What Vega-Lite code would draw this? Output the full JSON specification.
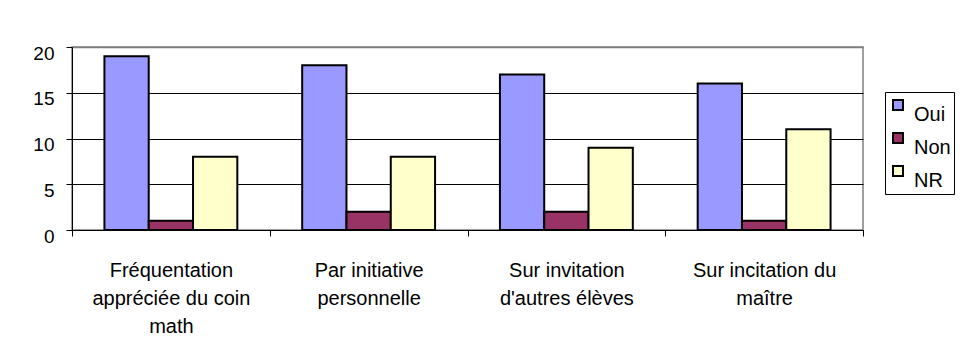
{
  "$schema": "https://vega.github.io/schema/vega-lite/v6.json",
  "autosize": {"type": "none"},
  "padding": {"left": 72, "top": 47, "right": 97, "bottom": 131},
  "width": 791,
  "height": 183,
  "background": "white",
  "config": {
    "font": "Liberation Sans, Arial, sans-serif",
    "view": {"stroke": "#808080", "strokeWidth": 1.5}
  },
  "data": {
    "values": [
      {"situation": "Fréquentation appréciée du coin math", "reponse": "Oui", "effectif": 19},
      {"situation": "Fréquentation appréciée du coin math", "reponse": "Non", "effectif": 1},
      {"situation": "Fréquentation appréciée du coin math", "reponse": "NR", "effectif": 8},
      {"situation": "Par initiative personnelle", "reponse": "Oui", "effectif": 18},
      {"situation": "Par initiative personnelle", "reponse": "Non", "effectif": 2},
      {"situation": "Par initiative personnelle", "reponse": "NR", "effectif": 8},
      {"situation": "Sur invitation d'autres élèves", "reponse": "Oui", "effectif": 17},
      {"situation": "Sur invitation d'autres élèves", "reponse": "Non", "effectif": 2},
      {"situation": "Sur invitation d'autres élèves", "reponse": "NR", "effectif": 9},
      {"situation": "Sur incitation du maître", "reponse": "Oui", "effectif": 16},
      {"situation": "Sur incitation du maître", "reponse": "Non", "effectif": 1},
      {"situation": "Sur incitation du maître", "reponse": "NR", "effectif": 11}
    ]
  },
  "mark": {"type": "bar", "stroke": "black", "strokeWidth": 2},
  "encoding": {
    "x": {
      "field": "situation",
      "type": "nominal",
      "sort": null,
      "scale": {"paddingInner": 0, "paddingOuter": 0},
      "axis": {
        "title": null,
        "labelAngle": 0,
        "labelFontSize": 20,
        "labelColor": "black",
        "labelBaseline": "top",
        "labelPadding": 24,
        "labelLineHeight": 28,
        "labelLimit": 0,
        "tickBand": "extent",
        "tickSize": 6,
        "tickColor": "black",
        "domainColor": "black",
        "labelExpr": "datum.label == 'Fréquentation appréciée du coin math' ? ['Fréquentation', 'appréciée du coin', 'math'] : datum.label == 'Par initiative personnelle' ? ['Par initiative', 'personnelle'] : datum.label == \"Sur invitation d'autres élèves\" ? ['Sur invitation', \"d'autres élèves\"] : datum.label == 'Sur incitation du maître' ? ['Sur incitation du', 'maître'] : ''"
      }
    },
    "xOffset": {
      "field": "reponse",
      "type": "nominal",
      "sort": ["Oui", "Non", "NR"],
      "scale": {"paddingInner": 0, "paddingOuter": 0.732}
    },
    "y": {
      "field": "effectif",
      "type": "quantitative",
      "scale": {"domain": [0, 20]},
      "axis": {
        "title": null,
        "values": [0, 5, 10, 15, 20],
        "labelFontSize": 19,
        "labelColor": "black",
        "labelPadding": 12,
        "labelOffset": 6,
        "tickSize": 6,
        "tickColor": "black",
        "domainColor": "black",
        "grid": true,
        "gridColor": {"condition": {"test": "datum.value == 20", "value": "#808080"}, "value": "black"},
        "gridWidth": {"condition": {"test": "datum.value == 20", "value": 1.5}, "value": 1}
      }
    },
    "color": {
      "field": "reponse",
      "type": "nominal",
      "sort": ["Oui", "Non", "NR"],
      "scale": {"domain": ["Oui", "Non", "NR"], "range": ["#9999FF", "#993366", "#FFFFCC"]},
      "legend": {
        "title": null,
        "orient": "none",
        "legendX": 813,
        "legendY": 45,
        "padding": 3,
        "strokeColor": "black",
        "fillColor": "white",
        "symbolType": "square",
        "symbolSize": 100,
        "symbolStrokeColor": "black",
        "symbolStrokeWidth": 2,
        "symbolOpacity": 1,
        "labelFontSize": 20,
        "labelColor": "black",
        "labelBaseline": "top",
        "labelOffset": 6,
        "rowPadding": 3
      }
    }
  }
}
